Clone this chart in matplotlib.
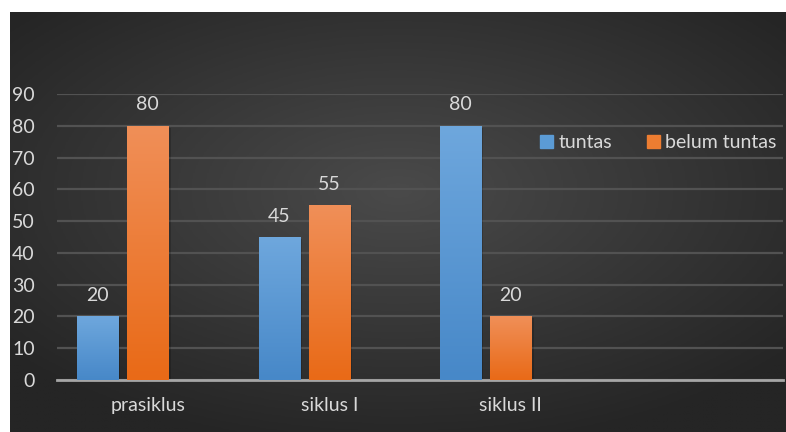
import matplotlib.pyplot as plt
import numpy as np
from matplotlib.colors import LinearSegmentedColormap
from matplotlib.patches import Rectangle

# data
categories = ['prasiklus', 'siklus I', 'siklus II', '']
tuntas = [20, 45, 80]
belum_tuntas = [80, 55, 20]
series_names = ['tuntas', 'belum tuntas']
yticks = list(range(0, 100, 10))

plt.rcParams['font.family'] = ['Lato', 'DejaVu Sans']
txt = '#d9d9d9'
fs = 14

fig = plt.figure(figsize=(7.86, 4.32), dpi=100, facecolor='white')

# dark panel with a soft radial glow
bg = fig.add_axes([10 / 786, 0, 776 / 786, 420 / 432])
bg.set_axis_off()
yy, xx = np.mgrid[-1:1:300j, -1:1:500j]
r = np.sqrt((xx * 0.95) ** 2 + ((yy + 0.15) * 1.0) ** 2)
glow = np.clip(1 - r / 1.25, 0, 1)
bg_cmap = LinearSegmentedColormap.from_list('bg', ['#252525', '#4a4a4a'])
bg.imshow(glow, cmap=bg_cmap, aspect='auto', extent=(0, 1, 0, 1), vmin=0, vmax=1)
bg.set_xlim(0, 1)
bg.set_ylim(0, 1)

ax = fig.add_axes([57 / 786, 52 / 432, 726 / 786, 286 / 432])
ax.patch.set_alpha(0)

for s in ['top', 'right', 'left']:
    ax.spines[s].set_visible(False)
ax.spines['bottom'].set_color('#a6a6a6')
ax.spines['bottom'].set_linewidth(2)
ax.set_yticks(yticks)
ax.grid(axis='y', color='#525252', linewidth=1.6)
ax.set_axisbelow(True)
ax.tick_params(axis='y', length=0, pad=16, labelsize=fs, labelcolor=txt)
ax.tick_params(axis='x', length=0, pad=12, labelsize=fs, labelcolor=txt)
ax.set_xticks(range(len(categories)))
ax.set_xticklabels(categories)

blue_cmap = LinearSegmentedColormap.from_list('b', ['#4788c8', '#6ea7dd'])
orange_cmap = LinearSegmentedColormap.from_list('o', ['#e96a17', '#f08f58'])

x = np.arange(len(tuntas))
w = 0.227
offsets = [-0.276, 0.0]
grad = np.linspace(0, 1, 100).reshape(-1, 1)

for vals, off, cm, name in zip([tuntas, belum_tuntas], offsets,
                               [blue_cmap, orange_cmap], series_names):
    bars = ax.bar(x + off, vals, width=w, color=cm(0.5), label=name, zorder=3)
    for b, v in zip(bars, vals):
        bx, by = b.get_x(), b.get_y()
        bw, bh = b.get_width(), b.get_height()
        # soft shadow on the right side
        ax.add_patch(Rectangle((bx + 0.012, by), bw, bh - 0.6, color='black',
                               alpha=0.18, zorder=2.5, linewidth=0))
        im = ax.imshow(grad, cmap=cm, aspect='auto', origin='lower',
                       extent=(bx, bx + bw, by, by + bh), zorder=3.5)
        im.set_clip_path(b)
        ax.annotate(str(v), (bx + bw / 2, v), xytext=(0, 9),
                    textcoords='offset points', ha='center', va='bottom',
                    fontsize=fs, color=txt)

ax.set_xlim(-0.5, 3.5)
ax.set_ylim(0, 90)

handles = [Rectangle((0, 0), 1, 1, color='#5b9bd5'),
           Rectangle((0, 0), 1, 1, color='#ed7d31')]
ax.legend(handles, series_names, loc='center right', bbox_to_anchor=(1.01, 0.83),
          ncol=2, frameon=False, fontsize=fs, labelcolor=txt,
          handlelength=0.7, handleheight=0.7, handletextpad=0.25,
          columnspacing=1.8, borderpad=0.2)

fig.savefig('out.png', dpi=100, facecolor='white')
